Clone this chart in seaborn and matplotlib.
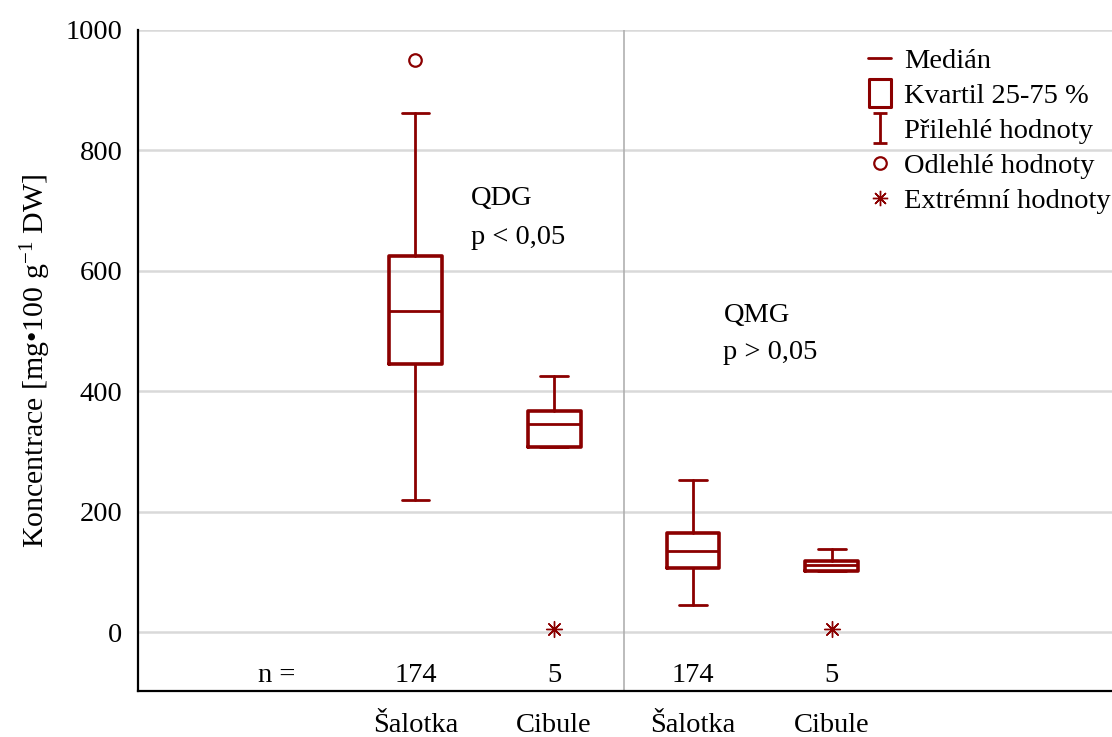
import matplotlib
matplotlib.use("Agg")
import matplotlib.pyplot as plt
from matplotlib.lines import Line2D
from matplotlib.path import Path
import seaborn as sns

# Box summary per group (mg per 100 g DW)
groups = ["Šalotka", "Cibule", "Šalotka", "Cibule"]
n_counts = [174, 5, 174, 5]
whisker_low = [219, 307, 45, 101]
quartile_1 = [445, 307, 107, 101]
medians = [533, 345, 135, 111]
quartile_3 = [625, 367, 165, 118]
whisker_high = [862, 425, 252, 138]
outliers = [[950], [], [], []]
extremes = [[], [5], [], [5]]

y_ticks = [0, 200, 400, 600, 800, 1000]
legend_labels = ["Medián", "Kvartil 25-75 %", "Přilehlé hodnoty",
                 "Odlehlé hodnoty", "Extrémní hodnoty"]

RED = "#8b0000"
FONT = "Liberation Serif"
FS = 20.5

sns.set_theme(style="whitegrid")
plt.rcParams["font.family"] = [FONT, "DejaVu Serif"]
plt.rcParams["mathtext.fontset"] = "custom"
plt.rcParams["mathtext.rm"] = FONT
plt.rcParams["mathtext.it"] = FONT
plt.rcParams["text.color"] = "black"

fig = plt.figure(figsize=(11.12, 7.37), dpi=100)
ax = fig.add_axes([0.124, 0.0624, 0.876, 0.8969])

positions = [1, 2, 3, 4]
stats = []
for i in range(len(groups)):
    stats.append(dict(whislo=whisker_low[i], q1=quartile_1[i], med=medians[i],
                      q3=quartile_3[i], whishi=whisker_high[i],
                      fliers=outliers[i], label=groups[i]))

ax.bxp(stats, positions=positions, widths=0.38, showfliers=True,
       patch_artist=False, capwidths=0.2,
       boxprops=dict(color=RED, linewidth=2.6),
       medianprops=dict(color=RED, linewidth=2.0),
       whiskerprops=dict(color=RED, linewidth=2.0),
       capprops=dict(color=RED, linewidth=2.0),
       flierprops=dict(marker="o", markerfacecolor="none",
                       markeredgecolor=RED, markersize=9, markeredgewidth=1.6))

ext_x = [p for p, vals in zip(positions, extremes) for _ in vals]
ext_y = [v for vals in extremes for v in vals]
ax.scatter(ext_x, ext_y, marker=(8, 2, 0), s=130, color=RED, linewidths=1.0,
           zorder=4)

ax.set_xlim(-1, 6.02)
ax.set_ylim(-98, 1000)
ax.set_yticks(y_ticks)
ax.set_yticklabels([str(t) for t in y_ticks], fontsize=FS, color="black")
ax.set_xticks(positions)
ax.set_xticklabels(groups, fontsize=FS, color="black")
ax.tick_params(axis="both", length=0)
ax.tick_params(axis="y", pad=11)
ax.tick_params(axis="x", pad=16)

ax.grid(False)
ax.yaxis.grid(True, color="#d9d9d9", linewidth=1.8)
ax.set_axisbelow(True)
for side in ("top", "right"):
    ax.spines[side].set_visible(False)
for side in ("left", "bottom"):
    ax.spines[side].set_visible(True)
    ax.spines[side].set_color("black")
    ax.spines[side].set_linewidth(1.6)

ax.axvline(2.5, color="#b0b0b0", linewidth=1.2, zorder=1)

ax.set_ylabel(r"Koncentrace [mg•100 g$^{\mathrm{-1}}$ DW]", fontsize=21.5,
              color="black", labelpad=9)

# sample sizes row
ax.text(0, -73, "n =", fontsize=FS, ha="center", va="center")
for p, n in zip(positions, n_counts):
    ax.text(p, -73, str(n), fontsize=FS, ha="center", va="center")

# group test annotations
ax.text(1.4, 720, "QDG", fontsize=FS, ha="left", va="center")
ax.text(1.4, 656, "p < 0,05", fontsize=FS, ha="left", va="center")
ax.text(3.22, 525, "QMG", fontsize=FS, ha="left", va="center")
ax.text(3.22, 465, "p > 0,05", fontsize=FS, ha="left", va="center")

whisker_path = Path([(-0.5, -1), (0.5, -1), (0, -1), (0, 1), (-0.5, 1), (0.5, 1)],
                    [Path.MOVETO, Path.LINETO, Path.MOVETO, Path.LINETO,
                     Path.MOVETO, Path.LINETO])
box_path = Path([(-0.4, -0.5), (0.4, -0.5), (0.4, 0.5), (-0.4, 0.5), (-0.4, -0.5)],
                [Path.MOVETO, Path.LINETO, Path.LINETO, Path.LINETO,
                 Path.CLOSEPOLY])
handles = [
    Line2D([], [], color=RED, linewidth=2.0),
    Line2D([], [], linestyle="none", marker=box_path, markersize=20,
           markerfacecolor="none", markeredgecolor=RED, markeredgewidth=2.2),
    Line2D([], [], linestyle="none", marker=whisker_path, markersize=21,
           markerfacecolor="none", markeredgecolor=RED, markeredgewidth=2.0),
    Line2D([], [], linestyle="none", marker="o", markersize=9,
           markerfacecolor="none", markeredgecolor=RED, markeredgewidth=1.6),
    Line2D([], [], linestyle="none", marker=(8, 2, 0), markersize=11,
           color=RED, markeredgewidth=1.0),
]
leg = ax.legend(handles, legend_labels, loc="upper left",
                bbox_to_anchor=(0.738, 0.99), frameon=False, fontsize=FS,
                handlelength=0.8, handletextpad=0.45, labelspacing=0.32,
                borderaxespad=0.0)
for t in leg.get_texts():
    t.set_color("black")

fig.savefig("out.png", dpi=100, facecolor="white")
